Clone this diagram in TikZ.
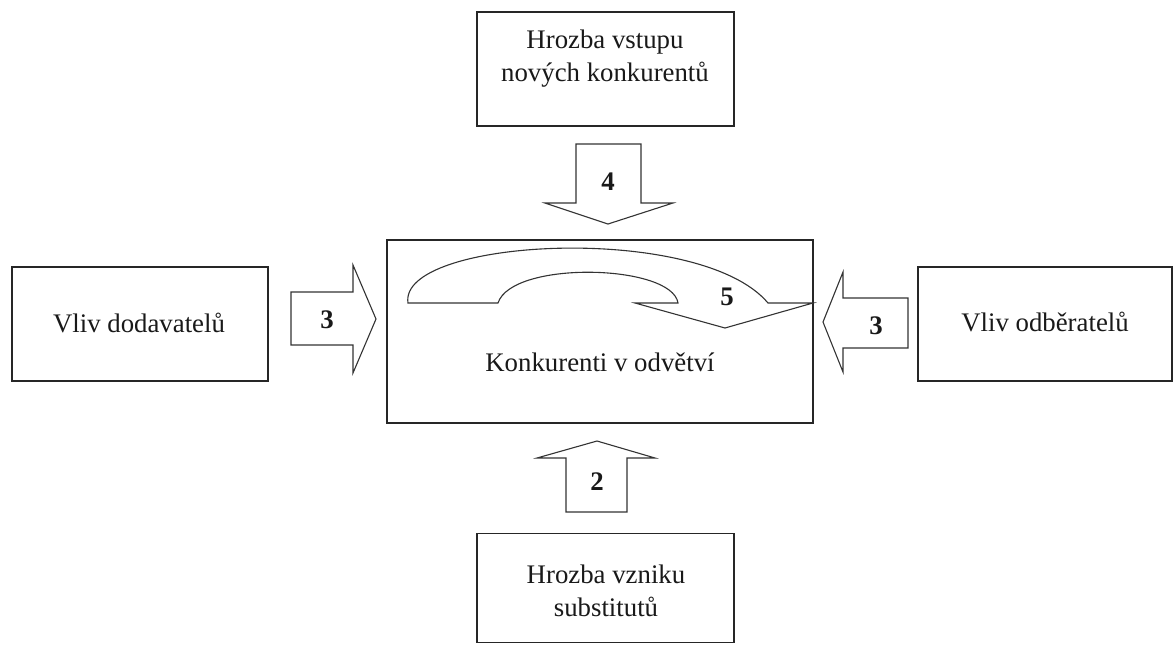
\documentclass[tikz,border=0pt]{standalone}
\usepackage{fontspec}
\setmainfont{Liberation Serif}
\begin{document}
\begin{tikzpicture}[x=0.5pt,y=-0.5pt,
  box/.style={draw=black!85,line width=0.7pt,fill=white,inner sep=0pt},
  lbl/.style={font=\fontsize{13.4}{16.5}\selectfont,align=center,text=black!90},
  num/.style={font=\fontsize{13.4}{16}\selectfont\bfseries,text=black!90},
  blk/.style={draw=black!80,line width=0.55pt,fill=white,line join=miter}]
\useasboundingbox (0,0) rectangle (1174,644);
% boxes
\node[box,minimum width=128.5pt,minimum height=57pt] (top) at (605.5,69) {};
\node[box,minimum width=128pt,minimum height=57pt] (left) at (140,324) {};
\node[box,minimum width=127pt,minimum height=57pt] (right) at (1045,324) {};
\node[box,minimum width=213pt,minimum height=91.5pt] (center) at (600,331.5) {};
\node[box,minimum width=128.5pt,minimum height=54.5pt] (bottom) at (605.5,588) {};
% texts
\node[lbl] (ttop) at (605,59) {Hrozba vstupu\\nových konkurentů};
\node[lbl] (tleft) at (139,323) {Vliv dodavatelů};
\node[lbl] (tright) at (1045,322) {Vliv odběratelů};
\node[lbl] (tcenter) at (600,362) {Konkurenti v odvětví};
\node[lbl] (tbottom) at (606,591) {Hrozba vzniku\\substitutů};
% block arrows
\draw[blk] (576,144) -- (641,144) -- (641,203) -- (673,203) -- (608,224) -- (545,203) -- (576,203) -- cycle;
\draw[blk] (566,512) -- (627,512) -- (627,458) -- (655,458) -- (597,441) -- (537,458) -- (566,458) -- cycle;
\draw[blk] (291,292) -- (353,292) -- (353,265) -- (376,319) -- (353,373) -- (353,345) -- (291,345) -- cycle;
\draw[blk] (908,298) -- (843,298) -- (843,272) -- (823,322) -- (843,372) -- (843,348) -- (908,348) -- cycle;
% curved arrow
\draw[blk] (408,303) .. controls (398,238) and (700,222) .. (768,303)
  -- (813,303) -- (725,328) -- (635,303) -- (678,303)
  .. controls (672,264) and (512,260) .. (498,303) -- cycle;
% numbers
\node[num] (n4) at (608,182) {4};
\node[num] (n3l) at (327,320) {3};
\node[num] (n3r) at (876,326) {3};
\node[num] (n2) at (597,482) {2};
\node[num] (n5) at (727,297) {5};
\end{tikzpicture}
\end{document}
